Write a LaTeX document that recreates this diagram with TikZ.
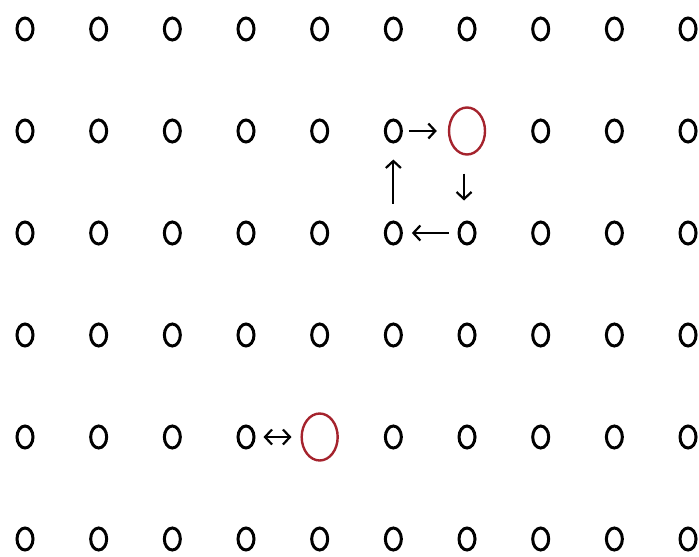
\documentclass[tikz,border=0pt]{standalone}
\usetikzlibrary{shapes.geometric,arrows.meta}
\definecolor{dred}{RGB}{165,35,45}
\tikzset{
  dot/.style={ellipse,draw=black,line width=3pt,inner sep=0pt,minimum width=16pt,minimum height=22pt},
  bigdot/.style={ellipse,draw=dred,line width=2.4pt,inner sep=0pt,minimum width=36pt,minimum height=47pt},
  arr/.style={line width=2.2pt,-{Straight Barb[length=7pt,width=15pt,line width=2.2pt]}},
  darr/.style={line width=2.2pt,{Straight Barb[length=7pt,width=15pt,line width=2.2pt]}-{Straight Barb[length=7pt,width=15pt,line width=2.2pt]}}
}
\begin{document}
\begin{tikzpicture}[x=1pt,y=-1pt]
\useasboundingbox (0,0) rectangle (699,557);
\foreach \r in {1,...,6}{
  \foreach \c in {1,...,10}{
    \pgfmathsetmacro{\xx}{25+73.67*(\c-1)}
    \pgfmathsetmacro{\yy}{29+102*(\r-1)}
    \ifnum\r=2 \ifnum\c=7 \node[bigdot] (n-\r-\c) at (\xx,\yy) {};\else \node[dot] (n-\r-\c) at (\xx,\yy) {};\fi
    \else\ifnum\r=5 \ifnum\c=5 \node[bigdot] (n-\r-\c) at (\xx,\yy) {};\else \node[dot] (n-\r-\c) at (\xx,\yy) {};\fi
    \else \node[dot] (n-\r-\c) at (\xx,\yy) {};\fi\fi
  }
}
\draw[arr,shorten <=6pt,shorten >=11pt] (n-2-6.east) -- (n-2-7.west);
\draw[arr,shorten <=18pt,shorten >=20pt] ([xshift=-3pt]n-2-7.south) -- ([xshift=-3pt]n-3-7.north);
\draw[arr,shorten <=9pt,shorten >=9pt] (n-3-7.west) -- (n-3-6.east);
\draw[arr,shorten <=17pt,shorten >=16pt] (n-3-6.north) -- (n-2-6.south);
\draw[darr,shorten <=8pt,shorten >=9pt] (n-5-4.east) -- (n-5-5.west);
\end{tikzpicture}
\end{document}
